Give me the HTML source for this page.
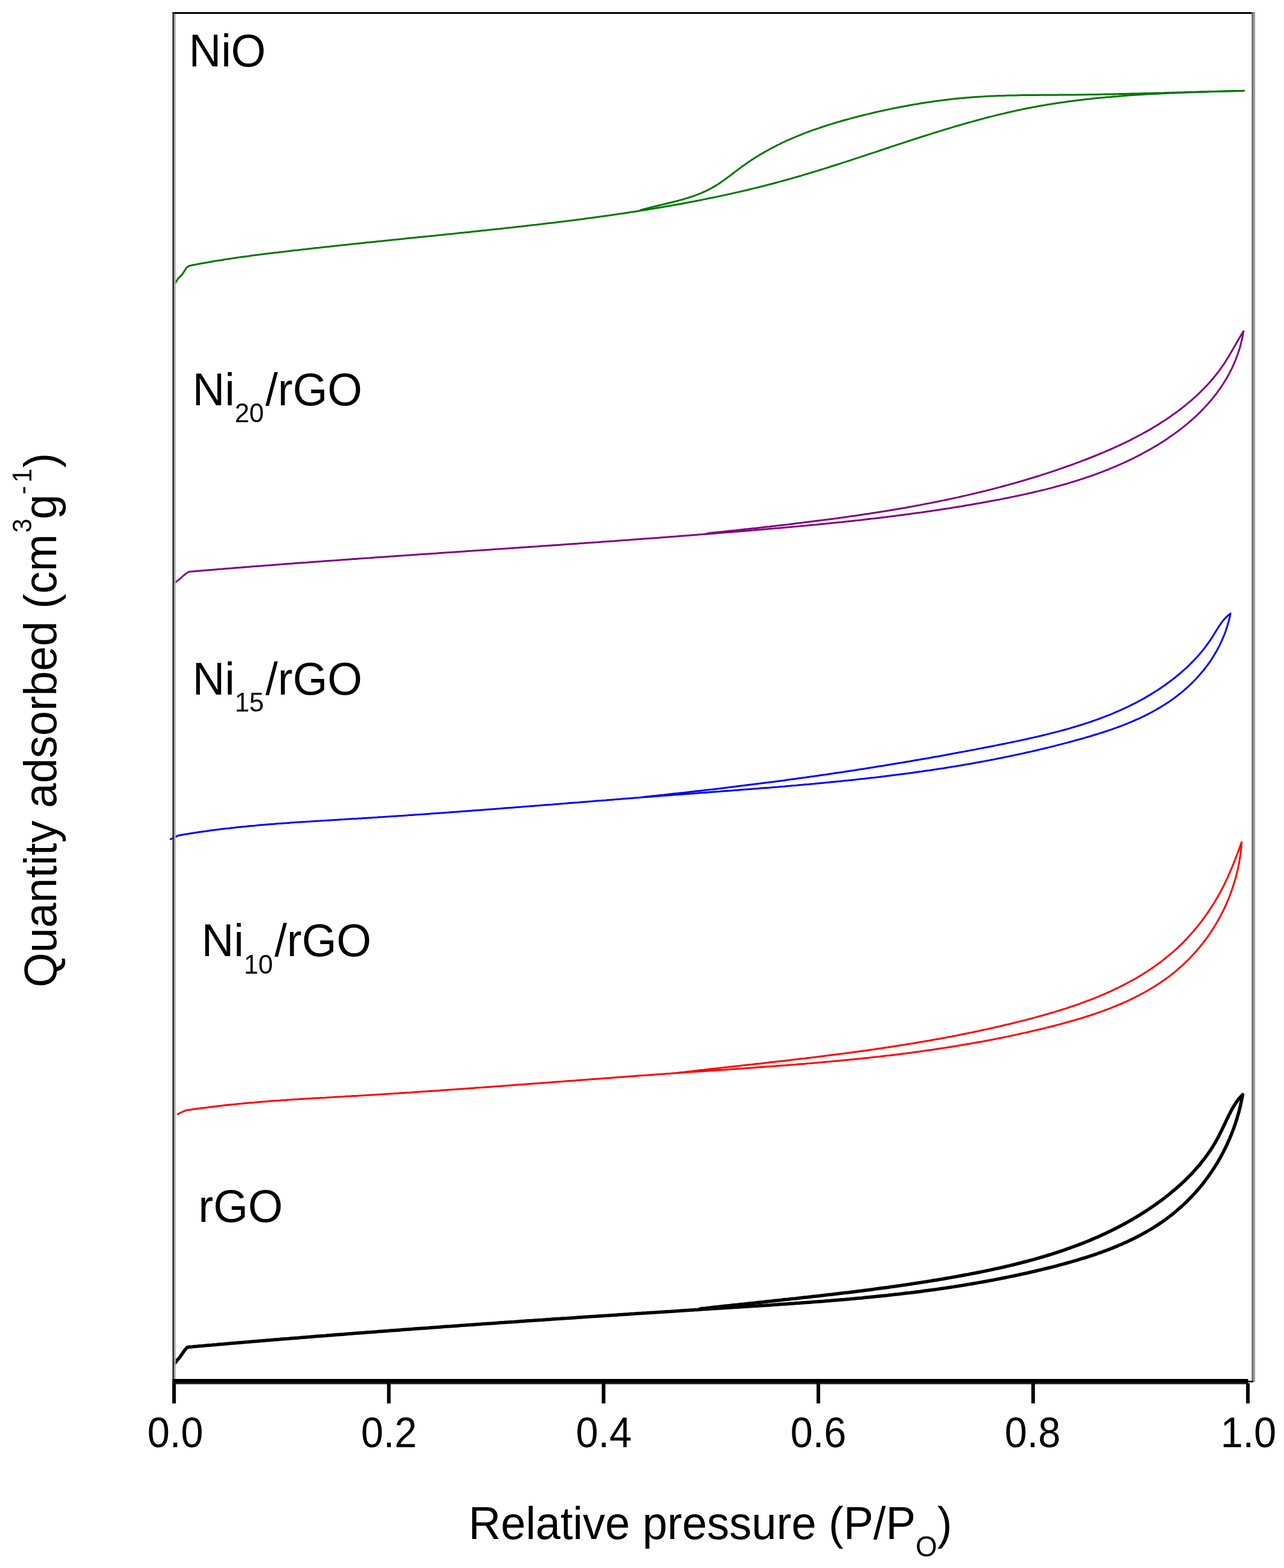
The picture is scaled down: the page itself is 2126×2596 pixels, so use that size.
<!DOCTYPE html>
<html><head><meta charset="utf-8"><title>Isotherms</title>
<style>html,body{margin:0;padding:0;background:#fff;width:2126px;height:2596px;overflow:hidden}svg{display:block}</style>
</head><body>
<svg width="2126" height="2596" viewBox="0 0 2126 2596">
<rect width="2126" height="2596" fill="#fff"/>
<g font-family="'Liberation Sans', Arial, sans-serif" fill="#000">
<text transform="translate(312.7,110) scale(1,1.035)" font-size="74" >NiO</text>
<text transform="translate(318.8,670.6) scale(1,1.035)" font-size="74" >Ni<tspan font-size="43.5" dy="27.5">20</tspan><tspan dx="2.5" dy="-27.5">/rGO</tspan></text>
<text transform="translate(318.8,1149.6) scale(1,1.035)" font-size="74" >Ni<tspan font-size="43.5" dy="27.5">15</tspan><tspan dx="2.5" dy="-27.5">/rGO</tspan></text>
<text transform="translate(333.8,1583.3) scale(1,1.035)" font-size="74" >Ni<tspan font-size="43.5" dy="27.5">10</tspan><tspan dx="2.5" dy="-27.5">/rGO</tspan></text>
<text transform="translate(328.6,2023.3) scale(1,1.035)" font-size="74" >rGO</text>
<text transform="translate(775.8,2547.6) scale(1,1.035)" font-size="74" >Relative pressure (P/P<tspan font-size="46" dy="28">O</tspan><tspan dy="-28">)</tspan></text>
<text transform="translate(92.9,1634.8) rotate(-90) scale(1,1.035)" font-size="74" letter-spacing="0.1">Quantity adsorbed (cm<tspan font-size="42" dx="2.2" dy="-40">3</tspan><tspan dx="-1.2" dy="40">g</tspan><tspan font-size="42" dy="-40">-</tspan><tspan font-size="42" dx="5.4">1</tspan><tspan dx="1" dy="40">)</tspan></text>
<text transform="translate(290.3,2396) scale(1,1.072)" font-size="66.5" text-anchor="middle">0.0</text><text transform="translate(644.0,2396) scale(1,1.072)" font-size="66.5" text-anchor="middle">0.2</text><text transform="translate(999.8,2396) scale(1,1.072)" font-size="66.5" text-anchor="middle">0.4</text><text transform="translate(1355.0,2396) scale(1,1.072)" font-size="66.5" text-anchor="middle">0.6</text><text transform="translate(1709.7,2396) scale(1,1.072)" font-size="66.5" text-anchor="middle">0.8</text><text transform="translate(2067.1,2396) scale(1,1.072)" font-size="66.5" text-anchor="middle">1.0</text>
</g>
<g fill="none" stroke-linejoin="round" stroke-linecap="round">
<path d="M289.8,469.1 L295.0,461.1 L301.9,454.1 L308.8,443.2 L313.4,440.1 L313.4,440.1 L317.3,439.3 L321.3,438.5 L325.2,437.8 L329.1,437.0 L333.1,436.3 L337.0,435.6 L340.9,434.9 L344.9,434.2 L348.8,433.5 L352.8,432.8 L356.7,432.1 L360.7,431.5 L364.6,430.9 L368.6,430.2 L372.5,429.6 L376.5,429.0 L380.5,428.4 L384.4,427.8 L388.4,427.2 L392.3,426.6 L396.3,426.1 L400.3,425.5 L404.2,425.0 L408.2,424.4 L412.2,423.9 L416.1,423.3 L420.1,422.8 L424.1,422.3 L428.1,421.8 L432.0,421.3 L436.0,420.8 L440.0,420.3 L444.0,419.8 L447.9,419.3 L451.9,418.8 L455.9,418.3 L459.9,417.9 L463.9,417.4 L467.8,416.9 L471.8,416.5 L475.8,416.0 L479.8,415.5 L483.8,415.1 L487.7,414.6 L491.7,414.2 L495.7,413.7 L499.7,413.3 L503.7,412.8 L507.7,412.4 L511.6,411.9 L515.6,411.5 L519.6,411.0 L523.6,410.6 L527.6,410.2 L531.6,409.7 L535.5,409.3 L539.5,408.8 L543.5,408.4 L547.5,408.0 L551.5,407.6 L555.5,407.1 L559.4,406.7 L563.4,406.3 L567.4,405.8 L571.4,405.4 L575.4,405.0 L579.4,404.6 L583.4,404.1 L587.3,403.7 L591.3,403.3 L595.3,402.9 L599.3,402.5 L603.3,402.1 L607.3,401.6 L611.3,401.2 L615.3,400.8 L619.2,400.4 L623.2,400.0 L627.2,399.6 L631.2,399.2 L635.2,398.7 L639.2,398.3 L643.2,397.9 L647.2,397.5 L651.2,397.1 L655.2,396.7 L659.1,396.3 L663.1,395.9 L667.1,395.5 L671.1,395.1 L675.1,394.6 L679.1,394.2 L683.1,393.8 L687.1,393.4 L691.1,393.0 L695.1,392.6 L699.0,392.2 L703.0,391.8 L707.0,391.4 L711.0,391.0 L715.0,390.6 L719.0,390.2 L723.0,389.7 L727.0,389.3 L731.0,388.9 L735.0,388.5 L739.0,388.1 L743.0,387.7 L747.0,387.3 L750.9,386.9 L754.9,386.4 L758.9,386.0 L762.9,385.6 L766.9,385.2 L770.9,384.8 L774.9,384.4 L778.9,384.0 L782.9,383.5 L786.9,383.1 L790.9,382.7 L794.9,382.3 L798.9,381.8 L802.9,381.4 L806.9,381.0 L810.8,380.6 L814.8,380.1 L818.8,379.7 L822.8,379.3 L826.8,378.9 L830.8,378.4 L834.8,378.0 L838.8,377.5 L842.8,377.1 L846.8,376.7 L850.8,376.2 L854.8,375.8 L858.8,375.3 L862.8,374.9 L866.8,374.4 L870.7,374.0 L874.7,373.5 L878.7,373.1 L882.7,372.6 L886.7,372.2 L890.7,371.7 L894.7,371.2 L898.7,370.8 L902.7,370.3 L906.7,369.8 L910.7,369.3 L914.6,368.9 L918.6,368.4 L922.6,367.9 L926.6,367.4 L930.6,366.9 L934.6,366.4 L938.6,365.9 L942.6,365.4 L946.5,364.9 L950.5,364.4 L954.5,363.9 L958.5,363.4 L962.5,362.9 L966.5,362.4 L970.4,361.8 L974.4,361.3 L978.4,360.8 L982.4,360.2 L986.3,359.7 L990.3,359.2 L994.3,358.6 L998.3,358.1 L1002.3,357.5 L1006.2,356.9 L1010.2,356.4 L1014.2,355.8 L1018.1,355.2 L1022.1,354.7 L1026.1,354.1 L1030.1,353.5 L1034.0,352.9 L1038.0,352.3 L1041.9,351.7 L1045.9,351.1 L1049.9,350.5 L1053.8,349.9 L1057.8,349.3 L1061.8,348.6 L1065.7,348.0 L1069.7,347.4 L1073.6,346.7 L1077.6,346.1 L1081.5,345.4 L1085.5,344.8 L1089.4,344.1 L1093.4,343.5 L1097.3,342.8 L1101.3,342.1 L1105.2,341.4 L1109.2,340.7 L1113.1,340.0 L1117.1,339.3 L1121.0,338.6 L1125.0,337.9 L1128.9,337.2 L1132.8,336.5 L1136.8,335.7 L1140.7,335.0 L1144.6,334.2 L1148.6,333.5 L1152.5,332.7 L1156.4,332.0 L1160.3,331.2 L1164.3,330.4 L1168.2,329.6 L1172.1,328.8 L1176.0,328.0 L1180.0,327.2 L1183.9,326.4 L1187.8,325.6 L1191.7,324.8 L1195.6,323.9 L1199.5,323.1 L1203.4,322.2 L1207.3,321.4 L1211.2,320.5 L1215.1,319.6 L1219.1,318.8 L1222.9,317.9 L1226.8,317.0 L1230.7,316.1 L1234.6,315.2 L1238.5,314.2 L1242.4,313.3 L1246.3,312.4 L1250.2,311.4 L1254.1,310.5 L1258.0,309.5 L1261.8,308.5 L1265.7,307.5 L1269.6,306.5 L1273.5,305.5 L1277.3,304.5 L1281.2,303.5 L1285.1,302.5 L1288.9,301.4 L1292.8,300.4 L1296.7,299.3 L1300.5,298.3 L1304.4,297.2 L1308.2,296.1 L1312.1,295.0 L1315.9,293.9 L1319.8,292.8 L1323.6,291.7 L1327.5,290.6 L1331.3,289.4 L1335.2,288.3 L1339.0,287.1 L1342.8,286.0 L1346.7,284.8 L1350.5,283.6 L1354.4,282.5 L1358.2,281.3 L1362.0,280.1 L1365.8,278.9 L1369.7,277.7 L1373.5,276.5 L1377.3,275.3 L1381.2,274.0 L1385.0,272.8 L1388.8,271.6 L1392.6,270.4 L1396.4,269.1 L1400.3,267.9 L1404.1,266.6 L1407.9,265.4 L1411.7,264.2 L1415.5,262.9 L1419.3,261.6 L1423.2,260.4 L1427.0,259.1 L1430.8,257.9 L1434.6,256.6 L1438.4,255.3 L1442.2,254.1 L1446.1,252.8 L1449.9,251.6 L1453.7,250.3 L1457.5,249.0 L1461.3,247.8 L1465.1,246.5 L1468.9,245.2 L1472.7,244.0 L1476.6,242.7 L1480.4,241.4 L1484.2,240.2 L1488.0,238.9 L1491.8,237.7 L1495.6,236.4 L1499.5,235.2 L1503.3,233.9 L1507.1,232.7 L1510.9,231.4 L1514.7,230.2 L1518.6,229.0 L1522.4,227.7 L1526.2,226.5 L1530.0,225.3 L1533.8,224.1 L1537.7,222.9 L1541.5,221.6 L1545.3,220.4 L1549.2,219.2 L1553.0,218.1 L1556.8,216.9 L1560.6,215.7 L1564.5,214.5 L1568.3,213.4 L1572.2,212.2 L1576.0,211.1 L1579.8,209.9 L1583.7,208.8 L1587.5,207.7 L1591.4,206.5 L1595.2,205.4 L1599.1,204.3 L1602.9,203.2 L1606.8,202.1 L1610.6,201.1 L1614.5,200.0 L1618.4,199.0 L1622.2,197.9 L1626.1,196.9 L1630.0,195.9 L1633.8,194.8 L1637.7,193.8 L1641.6,192.9 L1645.5,191.9 L1649.3,190.9 L1653.2,190.0 L1657.1,189.0 L1661.0,188.1 L1664.9,187.2 L1668.8,186.3 L1672.7,185.4 L1676.6,184.5 L1680.5,183.6 L1684.4,182.8 L1688.3,182.0 L1692.2,181.1 L1696.1,180.3 L1700.1,179.5 L1704.0,178.8 L1707.9,178.0 L1711.9,177.3 L1715.8,176.5 L1719.7,175.8 L1723.7,175.1 L1727.6,174.4 L1731.6,173.8 L1735.5,173.1 L1739.5,172.5 L1743.4,171.8 L1747.4,171.2 L1751.3,170.6 L1755.3,170.0 L1759.3,169.4 L1763.2,168.9 L1767.2,168.3 L1771.2,167.8 L1775.2,167.3 L1779.1,166.7 L1783.1,166.2 L1787.1,165.7 L1791.1,165.3 L1795.1,164.8 L1799.1,164.3 L1803.1,163.9 L1807.1,163.5 L1811.1,163.0 L1815.1,162.6 L1819.1,162.2 L1823.1,161.8 L1827.1,161.4 L1831.1,161.1 L1835.1,160.7 L1839.1,160.4 L1843.1,160.0 L1847.1,159.7 L1851.1,159.4 L1855.1,159.0 L1859.1,158.7 L1863.1,158.4 L1867.1,158.1 L1871.2,157.8 L1875.2,157.6 L1879.2,157.3 L1883.2,157.0 L1887.2,156.8 L1891.2,156.5 L1895.3,156.3 L1899.3,156.1 L1903.3,155.8 L1907.3,155.6 L1911.3,155.4 L1915.3,155.2 L1919.4,155.0 L1923.4,154.8 L1927.4,154.6 L1931.4,154.4 L1935.4,154.2 L1939.5,154.1 L1943.5,153.9 L1947.5,153.7 L1951.5,153.6 L1955.5,153.4 L1959.5,153.3 L1963.5,153.1 L1967.6,153.0 L1971.6,152.8 L1975.6,152.7 L1979.6,152.6 L1983.6,152.4 L1987.6,152.3 L1991.6,152.2 L1995.6,152.1 L1999.6,151.9 L2003.6,151.8 L2007.6,151.7 L2011.6,151.6 L2015.6,151.5 L2019.6,151.4 L2023.6,151.3 L2027.6,151.1 L2031.6,151.0 L2035.6,150.9 L2039.6,150.8 L2043.6,150.7 L2047.6,150.6 L2051.5,150.5 L2055.5,150.4 L2059.5,150.3" stroke="#007800" stroke-width="3"/>
<path d="M2059.5,150.3 L2055.5,150.4 L2051.4,150.5 L2047.4,150.6 L2043.4,150.7 L2039.4,150.7 L2035.4,150.8 L2031.3,150.9 L2027.3,151.0 L2023.3,151.1 L2019.3,151.2 L2015.2,151.3 L2011.2,151.4 L2007.2,151.5 L2003.2,151.6 L1999.1,151.8 L1995.1,151.9 L1991.1,152.0 L1987.1,152.1 L1983.0,152.2 L1979.0,152.3 L1975.0,152.4 L1971.0,152.5 L1966.9,152.6 L1962.9,152.7 L1958.9,152.9 L1954.9,153.0 L1950.9,153.1 L1946.8,153.2 L1942.8,153.3 L1938.8,153.4 L1934.8,153.5 L1930.7,153.6 L1926.7,153.8 L1922.7,153.9 L1918.7,154.0 L1914.6,154.1 L1910.6,154.2 L1906.6,154.3 L1902.6,154.4 L1898.6,154.5 L1894.5,154.6 L1890.5,154.7 L1886.5,154.8 L1882.5,154.9 L1878.4,155.0 L1874.4,155.1 L1870.4,155.2 L1866.4,155.3 L1862.3,155.4 L1858.3,155.5 L1854.3,155.6 L1850.3,155.7 L1846.2,155.8 L1842.2,155.9 L1838.2,156.0 L1834.2,156.0 L1830.1,156.1 L1826.1,156.2 L1822.1,156.3 L1818.1,156.4 L1814.0,156.4 L1810.0,156.5 L1806.0,156.6 L1802.0,156.6 L1797.9,156.7 L1793.9,156.7 L1789.9,156.8 L1785.9,156.8 L1781.8,156.9 L1777.8,156.9 L1773.8,157.0 L1769.7,157.0 L1765.7,157.1 L1761.7,157.1 L1757.7,157.1 L1753.6,157.1 L1749.6,157.2 L1745.6,157.2 L1741.5,157.2 L1737.5,157.2 L1733.5,157.3 L1729.5,157.3 L1725.4,157.3 L1721.4,157.3 L1717.4,157.4 L1713.3,157.4 L1709.3,157.4 L1705.3,157.5 L1701.3,157.5 L1697.2,157.6 L1693.2,157.6 L1689.2,157.7 L1685.2,157.8 L1681.1,157.9 L1677.1,157.9 L1673.1,158.0 L1669.1,158.1 L1665.1,158.2 L1661.0,158.4 L1657.0,158.5 L1653.0,158.6 L1649.0,158.8 L1645.0,159.0 L1640.9,159.1 L1636.9,159.3 L1632.9,159.5 L1628.9,159.8 L1624.9,160.0 L1620.9,160.2 L1616.9,160.5 L1612.9,160.8 L1608.9,161.1 L1604.8,161.4 L1600.8,161.7 L1596.8,162.1 L1592.8,162.5 L1588.8,162.8 L1584.8,163.2 L1580.8,163.6 L1576.8,164.1 L1572.8,164.5 L1568.9,165.0 L1564.9,165.5 L1560.9,166.0 L1556.9,166.5 L1552.9,167.0 L1548.9,167.5 L1544.9,168.1 L1541.0,168.7 L1537.0,169.2 L1533.0,169.8 L1529.0,170.5 L1525.0,171.1 L1521.1,171.7 L1517.1,172.4 L1513.1,173.1 L1509.2,173.8 L1505.2,174.5 L1501.2,175.2 L1497.3,175.9 L1493.3,176.7 L1489.4,177.4 L1485.4,178.2 L1481.5,179.0 L1477.5,179.8 L1473.6,180.6 L1469.6,181.5 L1465.7,182.3 L1461.8,183.2 L1457.8,184.0 L1453.9,184.9 L1450.0,185.8 L1446.0,186.7 L1442.1,187.7 L1438.2,188.6 L1434.3,189.6 L1430.3,190.5 L1426.4,191.5 L1422.5,192.5 L1418.6,193.5 L1414.7,194.5 L1410.8,195.6 L1406.9,196.6 L1403.0,197.7 L1399.1,198.7 L1395.2,199.8 L1391.4,201.0 L1387.5,202.1 L1383.6,203.2 L1379.8,204.4 L1375.9,205.6 L1372.1,206.8 L1368.2,208.0 L1364.4,209.2 L1360.6,210.5 L1356.8,211.8 L1352.9,213.1 L1349.2,214.4 L1345.4,215.7 L1341.6,217.1 L1337.8,218.5 L1334.1,219.9 L1330.3,221.3 L1326.6,222.8 L1322.9,224.3 L1319.2,225.8 L1315.5,227.4 L1311.8,228.9 L1308.1,230.5 L1304.5,232.2 L1300.8,233.8 L1297.2,235.5 L1293.6,237.2 L1290.0,239.0 L1286.4,240.7 L1282.9,242.6 L1279.3,244.4 L1275.8,246.3 L1272.3,248.2 L1268.8,250.1 L1265.3,252.1 L1261.8,254.1 L1258.4,256.1 L1255.0,258.2 L1251.6,260.3 L1248.2,262.5 L1244.8,264.6 L1241.5,266.9 L1238.2,269.1 L1234.9,271.4 L1231.6,273.8 L1228.3,276.1 L1225.1,278.5 L1221.8,281.0 L1218.6,283.4 L1215.4,285.8 L1212.2,288.3 L1209.0,290.7 L1205.7,293.1 L1202.5,295.5 L1199.2,297.9 L1196.0,300.2 L1192.6,302.5 L1189.3,304.7 L1185.9,306.8 L1182.5,308.9 L1179.1,310.9 L1175.6,312.8 L1172.0,314.6 L1168.5,316.4 L1164.8,318.0 L1161.2,319.6 L1157.5,321.1 L1153.7,322.6 L1150.0,323.9 L1146.2,325.3 L1142.3,326.5 L1138.5,327.8 L1134.6,328.9 L1130.7,330.1 L1126.8,331.1 L1122.9,332.2 L1119.0,333.2 L1115.0,334.2 L1111.0,335.2 L1107.1,336.2 L1103.1,337.2 L1099.2,338.1 L1095.2,339.1 L1091.2,340.0 L1087.3,341.0 L1083.3,341.9 L1079.4,342.9 L1075.5,343.9 L1071.6,344.9 L1067.7,345.9 L1063.8,347.0 L1060.0,348.1" stroke="#007800" stroke-width="3"/>
<path d="M289.7,964.6 L298.0,958.4 L304.2,952.5 L312.5,946.6 L312.5,946.6 L316.5,946.3 L320.5,945.9 L324.5,945.6 L328.5,945.2 L332.5,944.9 L336.5,944.6 L340.5,944.2 L344.5,943.9 L348.5,943.6 L352.5,943.3 L356.5,942.9 L360.5,942.6 L364.5,942.3 L368.5,942.0 L372.5,941.6 L376.5,941.3 L380.5,941.0 L384.5,940.7 L388.5,940.3 L392.5,940.0 L396.5,939.7 L400.5,939.4 L404.5,939.1 L408.5,938.8 L412.5,938.5 L416.5,938.1 L420.5,937.8 L424.5,937.5 L428.5,937.2 L432.5,936.9 L436.5,936.6 L440.5,936.3 L444.5,936.0 L448.5,935.7 L452.5,935.4 L456.5,935.1 L460.5,934.7 L464.5,934.4 L468.5,934.1 L472.5,933.8 L476.5,933.5 L480.5,933.2 L484.5,932.9 L488.5,932.6 L492.5,932.3 L496.5,932.0 L500.5,931.7 L504.5,931.4 L508.5,931.2 L512.5,930.9 L516.5,930.6 L520.5,930.3 L524.5,930.0 L528.6,929.7 L532.6,929.4 L536.6,929.1 L540.6,928.8 L544.6,928.5 L548.6,928.2 L552.6,927.9 L556.6,927.7 L560.6,927.4 L564.6,927.1 L568.6,926.8 L572.6,926.5 L576.6,926.2 L580.6,925.9 L584.6,925.6 L588.6,925.4 L592.6,925.1 L596.6,924.8 L600.6,924.5 L604.6,924.2 L608.6,923.9 L612.6,923.7 L616.6,923.4 L620.7,923.1 L624.7,922.8 L628.7,922.5 L632.7,922.3 L636.7,922.0 L640.7,921.7 L644.7,921.4 L648.7,921.1 L652.7,920.9 L656.7,920.6 L660.7,920.3 L664.7,920.0 L668.7,919.8 L672.7,919.5 L676.7,919.2 L680.7,918.9 L684.7,918.6 L688.8,918.4 L692.8,918.1 L696.8,917.8 L700.8,917.5 L704.8,917.3 L708.8,917.0 L712.8,916.7 L716.8,916.4 L720.8,916.2 L724.8,915.9 L728.8,915.6 L732.8,915.3 L736.8,915.1 L740.8,914.8 L744.8,914.5 L748.8,914.3 L752.9,914.0 L756.9,913.7 L760.9,913.4 L764.9,913.2 L768.9,912.9 L772.9,912.6 L776.9,912.3 L780.9,912.1 L784.9,911.8 L788.9,911.5 L792.9,911.2 L796.9,911.0 L800.9,910.7 L804.9,910.4 L808.9,910.2 L812.9,909.9 L817.0,909.6 L821.0,909.3 L825.0,909.1 L829.0,908.8 L833.0,908.5 L837.0,908.2 L841.0,908.0 L845.0,907.7 L849.0,907.4 L853.0,907.1 L857.0,906.9 L861.0,906.6 L865.0,906.3 L869.0,906.0 L873.0,905.8 L877.1,905.5 L881.1,905.2 L885.1,904.9 L889.1,904.7 L893.1,904.4 L897.1,904.1 L901.1,903.8 L905.1,903.6 L909.1,903.3 L913.1,903.0 L917.1,902.7 L921.1,902.4 L925.1,902.2 L929.1,901.9 L933.1,901.6 L937.2,901.3 L941.2,901.1 L945.2,900.8 L949.2,900.5 L953.2,900.2 L957.2,899.9 L961.2,899.6 L965.2,899.4 L969.2,899.1 L973.2,898.8 L977.2,898.5 L981.2,898.2 L985.2,897.9 L989.2,897.7 L993.2,897.4 L997.2,897.1 L1001.2,896.8 L1005.2,896.5 L1009.3,896.2 L1013.3,895.9 L1017.3,895.7 L1021.3,895.4 L1025.3,895.1 L1029.3,894.8 L1033.3,894.5 L1037.3,894.2 L1041.3,893.9 L1045.3,893.6 L1049.3,893.3 L1053.3,893.0 L1057.3,892.7 L1061.3,892.4 L1065.3,892.1 L1069.3,891.8 L1073.3,891.6 L1077.3,891.3 L1081.3,891.0 L1085.3,890.7 L1089.4,890.4 L1093.4,890.1 L1097.4,889.8 L1101.4,889.5 L1105.4,889.2 L1109.4,888.8 L1113.4,888.5 L1117.4,888.2 L1121.4,887.9 L1125.4,887.6 L1129.4,887.3 L1133.4,887.0 L1137.4,886.7 L1141.4,886.4 L1145.4,886.1 L1149.4,885.8 L1153.4,885.5 L1157.4,885.1 L1161.4,884.8 L1165.4,884.5 L1169.4,884.2 L1173.4,883.9 L1177.4,883.6 L1181.4,883.2 L1185.4,882.9 L1189.4,882.6 L1193.4,882.3 L1197.4,882.0 L1201.4,881.6 L1205.4,881.3 L1209.4,881.0 L1213.4,880.7 L1217.4,880.3 L1221.4,880.0 L1225.4,879.7 L1229.4,879.4 L1233.4,879.0 L1237.4,878.7 L1241.4,878.4 L1245.4,878.0 L1249.4,877.7 L1253.4,877.3 L1257.4,877.0 L1261.4,876.7 L1265.4,876.3 L1269.4,876.0 L1273.4,875.6 L1277.4,875.3 L1281.4,875.0 L1285.4,874.6 L1289.4,874.3 L1293.4,873.9 L1297.4,873.6 L1301.4,873.2 L1305.4,872.8 L1309.4,872.5 L1313.4,872.1 L1317.4,871.8 L1321.4,871.4 L1325.4,871.0 L1329.4,870.6 L1333.4,870.3 L1337.4,869.9 L1341.4,869.5 L1345.4,869.1 L1349.4,868.8 L1353.4,868.4 L1357.4,868.0 L1361.4,867.6 L1365.4,867.2 L1369.4,866.8 L1373.3,866.4 L1377.3,866.0 L1381.3,865.6 L1385.3,865.2 L1389.3,864.8 L1393.3,864.4 L1397.3,863.9 L1401.3,863.5 L1405.3,863.1 L1409.3,862.7 L1413.3,862.2 L1417.2,861.8 L1421.2,861.4 L1425.2,860.9 L1429.2,860.5 L1433.2,860.0 L1437.2,859.6 L1441.2,859.1 L1445.1,858.6 L1449.1,858.2 L1453.1,857.7 L1457.1,857.2 L1461.1,856.7 L1465.1,856.3 L1469.0,855.8 L1473.0,855.3 L1477.0,854.8 L1481.0,854.3 L1485.0,853.8 L1488.9,853.3 L1492.9,852.7 L1496.9,852.2 L1500.9,851.7 L1504.8,851.2 L1508.8,850.6 L1512.8,850.1 L1516.8,849.6 L1520.7,849.0 L1524.7,848.5 L1528.7,847.9 L1532.7,847.3 L1536.6,846.8 L1540.6,846.2 L1544.6,845.6 L1548.5,845.0 L1552.5,844.4 L1556.5,843.8 L1560.4,843.2 L1564.4,842.6 L1568.4,842.0 L1572.3,841.4 L1576.3,840.7 L1580.3,840.1 L1584.2,839.5 L1588.2,838.8 L1592.2,838.2 L1596.1,837.5 L1600.1,836.8 L1604.0,836.2 L1608.0,835.5 L1611.9,834.8 L1615.9,834.1 L1619.9,833.4 L1623.8,832.7 L1627.8,832.0 L1631.7,831.3 L1635.7,830.6 L1639.6,829.8 L1643.6,829.1 L1647.5,828.4 L1651.5,827.6 L1655.4,826.9 L1659.3,826.1 L1663.3,825.3 L1667.2,824.5 L1671.2,823.7 L1675.1,822.9 L1679.1,822.1 L1683.0,821.3 L1686.9,820.5 L1690.9,819.6 L1694.8,818.8 L1698.7,817.9 L1702.6,817.0 L1706.5,816.2 L1710.5,815.3 L1714.4,814.3 L1718.3,813.4 L1722.2,812.5 L1726.1,811.5 L1730.0,810.6 L1733.9,809.6 L1737.8,808.6 L1741.6,807.6 L1745.5,806.6 L1749.4,805.5 L1753.3,804.5 L1757.1,803.4 L1761.0,802.3 L1764.9,801.2 L1768.7,800.1 L1772.5,798.9 L1776.4,797.8 L1780.2,796.6 L1784.0,795.4 L1787.9,794.2 L1791.7,792.9 L1795.5,791.7 L1799.3,790.4 L1803.1,789.1 L1806.9,787.8 L1810.6,786.5 L1814.4,785.1 L1818.2,783.7 L1821.9,782.3 L1825.7,780.9 L1829.4,779.4 L1833.2,778.0 L1836.9,776.5 L1840.6,774.9 L1844.3,773.4 L1848.0,771.8 L1851.7,770.2 L1855.4,768.6 L1859.0,767.0 L1862.7,765.3 L1866.4,763.6 L1870.0,761.9 L1873.6,760.1 L1877.3,758.3 L1880.9,756.5 L1884.5,754.7 L1888.1,752.8 L1891.7,750.9 L1895.2,749.0 L1898.8,747.0 L1902.3,745.1 L1905.8,743.1 L1909.3,741.0 L1912.8,738.9 L1916.3,736.9 L1919.8,734.7 L1923.2,732.6 L1926.6,730.4 L1930.0,728.2 L1933.4,725.9 L1936.7,723.6 L1940.0,721.3 L1943.3,719.0 L1946.6,716.6 L1949.8,714.2 L1953.0,711.8 L1956.2,709.4 L1959.4,706.9 L1962.5,704.3 L1965.6,701.8 L1968.7,699.2 L1971.7,696.6 L1974.7,694.0 L1977.6,691.3 L1980.6,688.6 L1983.5,685.8 L1986.3,683.1 L1989.1,680.2 L1991.9,677.4 L1994.6,674.5 L1997.3,671.6 L2000.0,668.7 L2002.6,665.7 L2005.1,662.7 L2007.7,659.7 L2010.1,656.6 L2012.6,653.5 L2015.0,650.4 L2017.3,647.2 L2019.6,644.0 L2021.8,640.8 L2024.0,637.5 L2026.1,634.2 L2028.2,630.8 L2030.3,627.5 L2032.2,624.1 L2034.2,620.6 L2036.0,617.1 L2037.8,613.6 L2039.6,610.1 L2041.3,606.5 L2042.9,602.9 L2044.5,599.2 L2046.0,595.5 L2047.4,591.8 L2048.8,588.0 L2050.1,584.3 L2051.4,580.4 L2052.6,576.6 L2053.7,572.7 L2054.7,568.7 L2055.7,564.7 L2056.6,560.7 L2057.5,556.7 L2058.2,552.6 L2058.9,548.5" stroke="#800080" stroke-width="3"/>
<path d="M2058.9,548.5 L2056.8,551.9 L2054.7,555.3 L2052.6,558.8 L2050.6,562.2 L2048.6,565.7 L2046.5,569.2 L2044.5,572.7 L2042.5,576.2 L2040.5,579.7 L2038.4,583.2 L2036.4,586.7 L2034.3,590.2 L2032.2,593.6 L2030.0,597.1 L2027.9,600.5 L2025.7,603.8 L2023.4,607.1 L2021.1,610.4 L2018.7,613.6 L2016.3,616.8 L2013.8,620.0 L2011.3,623.1 L2008.8,626.2 L2006.2,629.3 L2003.6,632.3 L2000.9,635.3 L1998.2,638.2 L1995.5,641.1 L1992.7,644.0 L1989.9,646.8 L1987.0,649.6 L1984.1,652.4 L1981.2,655.1 L1978.2,657.8 L1975.3,660.4 L1972.3,663.1 L1969.2,665.7 L1966.1,668.2 L1963.0,670.8 L1959.9,673.3 L1956.8,675.7 L1953.6,678.2 L1950.4,680.6 L1947.2,683.0 L1944.0,685.3 L1940.7,687.6 L1937.4,689.9 L1934.1,692.2 L1930.8,694.4 L1927.4,696.7 L1924.1,698.8 L1920.7,701.0 L1917.3,703.1 L1913.9,705.2 L1910.4,707.3 L1907.0,709.4 L1903.5,711.4 L1900.0,713.4 L1896.5,715.4 L1893.0,717.3 L1889.5,719.2 L1885.9,721.2 L1882.3,723.0 L1878.8,724.9 L1875.2,726.7 L1871.6,728.6 L1867.9,730.4 L1864.3,732.1 L1860.7,733.9 L1857.0,735.6 L1853.3,737.3 L1849.7,739.0 L1846.0,740.7 L1842.3,742.4 L1838.6,744.0 L1834.8,745.6 L1831.1,747.2 L1827.4,748.8 L1823.6,750.4 L1819.9,752.0 L1816.1,753.5 L1812.4,755.0 L1808.6,756.5 L1804.8,758.0 L1801.1,759.5 L1797.3,761.0 L1793.5,762.4 L1789.7,763.8 L1785.9,765.3 L1782.1,766.7 L1778.3,768.1 L1774.5,769.5 L1770.7,770.8 L1766.9,772.2 L1763.1,773.5 L1759.3,774.9 L1755.5,776.2 L1751.6,777.5 L1747.8,778.8 L1744.0,780.1 L1740.2,781.4 L1736.3,782.6 L1732.5,783.9 L1728.7,785.1 L1724.8,786.3 L1721.0,787.6 L1717.1,788.8 L1713.3,790.0 L1709.4,791.1 L1705.6,792.3 L1701.7,793.5 L1697.9,794.6 L1694.0,795.8 L1690.2,796.9 L1686.3,798.0 L1682.4,799.1 L1678.6,800.2 L1674.7,801.3 L1670.8,802.4 L1667.0,803.4 L1663.1,804.5 L1659.2,805.5 L1655.3,806.6 L1651.4,807.6 L1647.6,808.6 L1643.7,809.6 L1639.8,810.6 L1635.9,811.6 L1632.0,812.6 L1628.1,813.5 L1624.2,814.5 L1620.3,815.4 L1616.4,816.4 L1612.5,817.3 L1608.6,818.2 L1604.7,819.1 L1600.8,820.1 L1596.8,820.9 L1592.9,821.8 L1589.0,822.7 L1585.1,823.6 L1581.2,824.4 L1577.3,825.3 L1573.3,826.1 L1569.4,827.0 L1565.5,827.8 L1561.5,828.6 L1557.6,829.4 L1553.7,830.2 L1549.7,831.0 L1545.8,831.8 L1541.9,832.6 L1537.9,833.4 L1534.0,834.1 L1530.0,834.9 L1526.1,835.6 L1522.2,836.4 L1518.2,837.1 L1514.3,837.8 L1510.3,838.6 L1506.4,839.3 L1502.4,840.0 L1498.4,840.7 L1494.5,841.4 L1490.5,842.1 L1486.6,842.7 L1482.6,843.4 L1478.6,844.1 L1474.7,844.7 L1470.7,845.4 L1466.8,846.0 L1462.8,846.7 L1458.8,847.3 L1454.8,848.0 L1450.9,848.6 L1446.9,849.2 L1442.9,849.8 L1439.0,850.4 L1435.0,851.0 L1431.0,851.6 L1427.0,852.2 L1423.0,852.8 L1419.1,853.4 L1415.1,854.0 L1411.1,854.5 L1407.1,855.1 L1403.1,855.7 L1399.1,856.2 L1395.2,856.8 L1391.2,857.3 L1387.2,857.9 L1383.2,858.4 L1379.2,859.0 L1375.2,859.5 L1371.2,860.0 L1367.2,860.5 L1363.2,861.1 L1359.2,861.6 L1355.2,862.1 L1351.3,862.6 L1347.3,863.1 L1343.3,863.6 L1339.3,864.1 L1335.3,864.6 L1331.3,865.1 L1327.3,865.6 L1323.3,866.1 L1319.3,866.5 L1315.3,867.0 L1311.3,867.5 L1307.3,868.0 L1303.3,868.4 L1299.3,868.9 L1295.2,869.4 L1291.2,869.8 L1287.2,870.3 L1283.2,870.8 L1279.2,871.2 L1275.2,871.7 L1271.2,872.1 L1267.2,872.6 L1263.2,873.0 L1259.2,873.5 L1255.2,873.9 L1251.2,874.4 L1247.2,874.8 L1243.2,875.2 L1239.2,875.7 L1235.1,876.1 L1231.1,876.6 L1227.1,877.0 L1223.1,877.4 L1219.1,877.9 L1215.1,878.3 L1211.1,878.7 L1207.1,879.1 L1203.1,879.6 L1199.1,880.0 L1195.1,880.4 L1191.0,880.9 L1187.0,881.3 L1183.0,881.7 L1179.0,882.1 L1175.0,882.6 L1171.0,883.0" stroke="#800080" stroke-width="3"/>
<path d="M282.4,1389.4 L289.7,1386.3 L294.5,1383.4 L294.5,1383.4 L298.5,1382.7 L302.4,1382.0 L306.4,1381.3 L310.3,1380.7 L314.3,1380.0 L318.3,1379.4 L322.2,1378.8 L326.2,1378.2 L330.2,1377.6 L334.1,1377.0 L338.1,1376.4 L342.1,1375.9 L346.1,1375.3 L350.0,1374.8 L354.0,1374.3 L358.0,1373.8 L362.0,1373.3 L366.0,1372.8 L369.9,1372.3 L373.9,1371.8 L377.9,1371.4 L381.9,1370.9 L385.9,1370.5 L389.9,1370.0 L393.9,1369.6 L397.8,1369.2 L401.8,1368.8 L405.8,1368.4 L409.8,1368.0 L413.8,1367.6 L417.8,1367.2 L421.8,1366.9 L425.8,1366.5 L429.8,1366.1 L433.8,1365.8 L437.8,1365.5 L441.8,1365.1 L445.8,1364.8 L449.8,1364.5 L453.8,1364.2 L457.8,1363.8 L461.8,1363.5 L465.8,1363.2 L469.8,1362.9 L473.8,1362.7 L477.8,1362.4 L481.8,1362.1 L485.8,1361.8 L489.8,1361.5 L493.8,1361.3 L497.8,1361.0 L501.8,1360.7 L505.9,1360.5 L509.9,1360.2 L513.9,1360.0 L517.9,1359.7 L521.9,1359.5 L525.9,1359.2 L529.9,1359.0 L533.9,1358.7 L537.9,1358.5 L541.9,1358.2 L545.9,1358.0 L550.0,1357.8 L554.0,1357.5 L558.0,1357.3 L562.0,1357.0 L566.0,1356.8 L570.0,1356.6 L574.0,1356.3 L578.0,1356.1 L582.0,1355.8 L586.1,1355.6 L590.1,1355.4 L594.1,1355.1 L598.1,1354.9 L602.1,1354.6 L606.1,1354.4 L610.1,1354.1 L614.1,1353.9 L618.1,1353.6 L622.1,1353.4 L626.2,1353.1 L630.2,1352.8 L634.2,1352.6 L638.2,1352.3 L642.2,1352.1 L646.2,1351.8 L650.2,1351.5 L654.2,1351.3 L658.2,1351.0 L662.2,1350.7 L666.2,1350.5 L670.3,1350.2 L674.3,1349.9 L678.3,1349.6 L682.3,1349.4 L686.3,1349.1 L690.3,1348.8 L694.3,1348.5 L698.3,1348.2 L702.3,1348.0 L706.3,1347.7 L710.3,1347.4 L714.3,1347.1 L718.4,1346.8 L722.4,1346.5 L726.4,1346.2 L730.4,1346.0 L734.4,1345.7 L738.4,1345.4 L742.4,1345.1 L746.4,1344.8 L750.4,1344.5 L754.4,1344.2 L758.4,1343.9 L762.4,1343.6 L766.4,1343.3 L770.4,1343.0 L774.5,1342.7 L778.5,1342.4 L782.5,1342.1 L786.5,1341.8 L790.5,1341.5 L794.5,1341.2 L798.5,1340.9 L802.5,1340.6 L806.5,1340.3 L810.5,1340.0 L814.5,1339.7 L818.5,1339.4 L822.5,1339.1 L826.5,1338.8 L830.5,1338.4 L834.5,1338.1 L838.6,1337.8 L842.6,1337.5 L846.6,1337.2 L850.6,1336.9 L854.6,1336.6 L858.6,1336.3 L862.6,1336.0 L866.6,1335.6 L870.6,1335.3 L874.6,1335.0 L878.6,1334.7 L882.6,1334.4 L886.6,1334.1 L890.6,1333.8 L894.6,1333.4 L898.6,1333.1 L902.6,1332.8 L906.7,1332.5 L910.7,1332.2 L914.7,1331.9 L918.7,1331.5 L922.7,1331.2 L926.7,1330.9 L930.7,1330.6 L934.7,1330.3 L938.7,1329.9 L942.7,1329.6 L946.7,1329.3 L950.7,1329.0 L954.7,1328.7 L958.7,1328.4 L962.7,1328.0 L966.7,1327.7 L970.7,1327.4 L974.7,1327.1 L978.7,1326.8 L982.7,1326.4 L986.8,1326.1 L990.8,1325.8 L994.8,1325.5 L998.8,1325.2 L1002.8,1324.9 L1006.8,1324.5 L1010.8,1324.2 L1014.8,1323.9 L1018.8,1323.6 L1022.8,1323.3 L1026.8,1323.0 L1030.8,1322.6 L1034.8,1322.3 L1038.8,1322.0 L1042.8,1321.7 L1046.8,1321.4 L1050.8,1321.1 L1054.8,1320.8 L1058.8,1320.4 L1062.8,1320.1 L1066.9,1319.8 L1070.9,1319.5 L1074.9,1319.2 L1078.9,1318.9 L1082.9,1318.6 L1086.9,1318.3 L1090.9,1318.0 L1094.9,1317.6 L1098.9,1317.3 L1102.9,1317.0 L1106.9,1316.7 L1110.9,1316.4 L1114.9,1316.1 L1118.9,1315.8 L1122.9,1315.5 L1126.9,1315.2 L1130.9,1314.9 L1134.9,1314.6 L1139.0,1314.3 L1143.0,1314.0 L1147.0,1313.7 L1151.0,1313.4 L1155.0,1313.1 L1159.0,1312.8 L1163.0,1312.5 L1167.0,1312.2 L1171.0,1311.9 L1175.0,1311.6 L1179.0,1311.3 L1183.0,1311.0 L1187.0,1310.7 L1191.0,1310.4 L1195.0,1310.1 L1199.0,1309.8 L1203.0,1309.5 L1207.0,1309.2 L1211.0,1308.9 L1215.0,1308.6 L1219.1,1308.3 L1223.1,1308.0 L1227.1,1307.6 L1231.1,1307.3 L1235.1,1307.0 L1239.1,1306.7 L1243.1,1306.4 L1247.1,1306.1 L1251.1,1305.8 L1255.1,1305.5 L1259.1,1305.1 L1263.1,1304.8 L1267.1,1304.5 L1271.1,1304.2 L1275.1,1303.9 L1279.1,1303.5 L1283.1,1303.2 L1287.1,1302.9 L1291.1,1302.5 L1295.1,1302.2 L1299.1,1301.9 L1303.1,1301.5 L1307.1,1301.2 L1311.1,1300.8 L1315.1,1300.5 L1319.1,1300.2 L1323.1,1299.8 L1327.1,1299.5 L1331.1,1299.1 L1335.1,1298.7 L1339.1,1298.4 L1343.1,1298.0 L1347.1,1297.7 L1351.1,1297.3 L1355.1,1296.9 L1359.1,1296.5 L1363.0,1296.2 L1367.0,1295.8 L1371.0,1295.4 L1375.0,1295.0 L1379.0,1294.6 L1383.0,1294.2 L1387.0,1293.8 L1391.0,1293.4 L1395.0,1293.0 L1399.0,1292.6 L1403.0,1292.2 L1407.0,1291.8 L1410.9,1291.4 L1414.9,1290.9 L1418.9,1290.5 L1422.9,1290.1 L1426.9,1289.6 L1430.9,1289.2 L1434.9,1288.7 L1438.9,1288.3 L1442.8,1287.8 L1446.8,1287.4 L1450.8,1286.9 L1454.8,1286.5 L1458.8,1286.0 L1462.8,1285.5 L1466.7,1285.0 L1470.7,1284.5 L1474.7,1284.0 L1478.7,1283.5 L1482.7,1283.0 L1486.6,1282.5 L1490.6,1282.0 L1494.6,1281.5 L1498.6,1281.0 L1502.5,1280.5 L1506.5,1279.9 L1510.5,1279.4 L1514.5,1278.8 L1518.4,1278.3 L1522.4,1277.7 L1526.4,1277.2 L1530.3,1276.6 L1534.3,1276.0 L1538.3,1275.5 L1542.3,1274.9 L1546.2,1274.3 L1550.2,1273.7 L1554.2,1273.1 L1558.1,1272.5 L1562.1,1271.9 L1566.0,1271.2 L1570.0,1270.6 L1574.0,1270.0 L1577.9,1269.3 L1581.9,1268.7 L1585.9,1268.0 L1589.8,1267.4 L1593.8,1266.7 L1597.7,1266.0 L1601.7,1265.3 L1605.6,1264.7 L1609.6,1264.0 L1613.6,1263.3 L1617.5,1262.5 L1621.5,1261.8 L1625.4,1261.1 L1629.4,1260.4 L1633.3,1259.6 L1637.3,1258.9 L1641.2,1258.1 L1645.2,1257.4 L1649.1,1256.6 L1653.0,1255.8 L1657.0,1255.0 L1660.9,1254.2 L1664.9,1253.4 L1668.8,1252.6 L1672.8,1251.8 L1676.7,1251.0 L1680.6,1250.1 L1684.6,1249.3 L1688.5,1248.4 L1692.4,1247.6 L1696.4,1246.7 L1700.3,1245.8 L1704.2,1245.0 L1708.2,1244.1 L1712.1,1243.2 L1716.0,1242.2 L1720.0,1241.3 L1723.9,1240.4 L1727.8,1239.5 L1731.7,1238.5 L1735.7,1237.6 L1739.6,1236.6 L1743.5,1235.6 L1747.4,1234.6 L1751.4,1233.6 L1755.3,1232.6 L1759.2,1231.6 L1763.1,1230.6 L1767.0,1229.6 L1770.9,1228.5 L1774.8,1227.5 L1778.8,1226.4 L1782.7,1225.3 L1786.6,1224.3 L1790.5,1223.2 L1794.4,1222.1 L1798.3,1220.9 L1802.2,1219.8 L1806.1,1218.7 L1810.0,1217.5 L1813.8,1216.3 L1817.7,1215.1 L1821.6,1213.9 L1825.4,1212.7 L1829.3,1211.4 L1833.1,1210.2 L1836.9,1208.9 L1840.8,1207.6 L1844.6,1206.2 L1848.4,1204.9 L1852.1,1203.5 L1855.9,1202.1 L1859.7,1200.6 L1863.4,1199.2 L1867.1,1197.7 L1870.8,1196.1 L1874.5,1194.6 L1878.2,1193.0 L1881.8,1191.4 L1885.5,1189.8 L1889.1,1188.1 L1892.7,1186.4 L1896.3,1184.6 L1899.8,1182.8 L1903.3,1181.0 L1906.9,1179.2 L1910.3,1177.3 L1913.8,1175.3 L1917.2,1173.4 L1920.6,1171.4 L1924.0,1169.3 L1927.4,1167.2 L1930.7,1165.1 L1934.0,1162.9 L1937.3,1160.7 L1940.5,1158.4 L1943.7,1156.1 L1946.9,1153.7 L1950.1,1151.3 L1953.2,1148.9 L1956.3,1146.4 L1959.3,1143.8 L1962.4,1141.2 L1965.3,1138.6 L1968.3,1135.9 L1971.2,1133.2 L1974.0,1130.4 L1976.8,1127.5 L1979.6,1124.7 L1982.3,1121.8 L1985.0,1118.8 L1987.6,1115.8 L1990.2,1112.7 L1992.8,1109.7 L1995.2,1106.5 L1997.7,1103.4 L2000.1,1100.1 L2002.4,1096.9 L2004.7,1093.6 L2006.9,1090.2 L2009.0,1086.8 L2011.1,1083.4 L2013.1,1080.0 L2015.1,1076.5 L2017.0,1072.9 L2018.9,1069.4 L2020.6,1065.8 L2022.3,1062.1 L2024.0,1058.4 L2025.6,1054.7 L2027.1,1051.0 L2028.5,1047.2 L2029.9,1043.4 L2031.2,1039.5 L2032.4,1035.7 L2033.5,1031.8 L2034.6,1027.8 L2035.6,1023.9 L2036.5,1019.9 L2037.3,1015.9" stroke="#0000ff" stroke-width="3"/>
<path d="M2037.3,1015.9 L2034.0,1018.4 L2031.0,1021.1 L2028.2,1024.0 L2025.6,1027.0 L2023.1,1030.1 L2020.8,1033.3 L2018.6,1036.6 L2016.4,1040.0 L2014.3,1043.4 L2012.2,1046.8 L2010.1,1050.3 L2008.0,1053.7 L2005.8,1057.1 L2003.6,1060.4 L2001.3,1063.7 L1998.9,1067.0 L1996.5,1070.2 L1994.1,1073.4 L1991.6,1076.5 L1989.0,1079.6 L1986.4,1082.7 L1983.8,1085.7 L1981.1,1088.7 L1978.4,1091.6 L1975.6,1094.5 L1972.8,1097.4 L1969.9,1100.3 L1967.0,1103.1 L1964.1,1105.8 L1961.1,1108.5 L1958.1,1111.2 L1955.1,1113.9 L1952.0,1116.5 L1948.9,1119.0 L1945.8,1121.6 L1942.6,1124.1 L1939.4,1126.5 L1936.2,1128.9 L1933.0,1131.3 L1929.7,1133.7 L1926.4,1136.0 L1923.1,1138.2 L1919.8,1140.5 L1916.5,1142.7 L1913.1,1144.8 L1909.7,1147.0 L1906.3,1149.1 L1902.9,1151.1 L1899.5,1153.1 L1896.1,1155.1 L1892.6,1157.1 L1889.1,1159.0 L1885.6,1160.9 L1882.1,1162.8 L1878.6,1164.6 L1875.0,1166.4 L1871.4,1168.2 L1867.9,1169.9 L1864.3,1171.6 L1860.7,1173.3 L1857.0,1174.9 L1853.4,1176.5 L1849.8,1178.1 L1846.1,1179.7 L1842.4,1181.3 L1838.7,1182.8 L1835.0,1184.3 L1831.3,1185.7 L1827.6,1187.2 L1823.8,1188.6 L1820.1,1190.0 L1816.3,1191.3 L1812.5,1192.7 L1808.8,1194.0 L1805.0,1195.3 L1801.2,1196.6 L1797.3,1197.8 L1793.5,1199.1 L1789.7,1200.3 L1785.8,1201.5 L1782.0,1202.6 L1778.1,1203.8 L1774.3,1204.9 L1770.4,1206.1 L1766.5,1207.2 L1762.6,1208.2 L1758.7,1209.3 L1754.8,1210.4 L1750.9,1211.4 L1747.0,1212.4 L1743.1,1213.4 L1739.1,1214.4 L1735.2,1215.4 L1731.2,1216.4 L1727.3,1217.3 L1723.4,1218.3 L1719.4,1219.2 L1715.4,1220.1 L1711.5,1221.0 L1707.5,1221.9 L1703.5,1222.8 L1699.6,1223.7 L1695.6,1224.5 L1691.6,1225.4 L1687.6,1226.3 L1683.7,1227.1 L1679.7,1227.9 L1675.7,1228.8 L1671.7,1229.6 L1667.7,1230.4 L1663.8,1231.2 L1659.8,1232.0 L1655.8,1232.8 L1651.8,1233.6 L1647.8,1234.4 L1643.8,1235.2 L1639.9,1236.0 L1635.9,1236.7 L1631.9,1237.5 L1627.9,1238.3 L1623.9,1239.1 L1620.0,1239.8 L1616.0,1240.6 L1612.0,1241.4 L1608.0,1242.1 L1604.1,1242.9 L1600.1,1243.6 L1596.1,1244.4 L1592.2,1245.1 L1588.2,1245.8 L1584.2,1246.6 L1580.2,1247.3 L1576.3,1248.0 L1572.3,1248.8 L1568.3,1249.5 L1564.4,1250.2 L1560.4,1250.9 L1556.4,1251.7 L1552.5,1252.4 L1548.5,1253.1 L1544.6,1253.8 L1540.6,1254.5 L1536.6,1255.2 L1532.7,1255.9 L1528.7,1256.6 L1524.7,1257.3 L1520.8,1257.9 L1516.8,1258.6 L1512.9,1259.3 L1508.9,1260.0 L1504.9,1260.7 L1501.0,1261.3 L1497.0,1262.0 L1493.1,1262.7 L1489.1,1263.3 L1485.1,1264.0 L1481.2,1264.6 L1477.2,1265.3 L1473.3,1265.9 L1469.3,1266.6 L1465.4,1267.2 L1461.4,1267.9 L1457.4,1268.5 L1453.5,1269.1 L1449.5,1269.8 L1445.6,1270.4 L1441.6,1271.0 L1437.6,1271.7 L1433.7,1272.3 L1429.7,1272.9 L1425.8,1273.5 L1421.8,1274.1 L1417.9,1274.7 L1413.9,1275.4 L1409.9,1276.0 L1406.0,1276.6 L1402.0,1277.2 L1398.1,1277.8 L1394.1,1278.4 L1390.1,1278.9 L1386.2,1279.5 L1382.2,1280.1 L1378.3,1280.7 L1374.3,1281.3 L1370.3,1281.9 L1366.4,1282.4 L1362.4,1283.0 L1358.5,1283.6 L1354.5,1284.2 L1350.5,1284.7 L1346.6,1285.3 L1342.6,1285.8 L1338.7,1286.4 L1334.7,1287.0 L1330.7,1287.5 L1326.8,1288.1 L1322.8,1288.6 L1318.8,1289.2 L1314.9,1289.7 L1310.9,1290.2 L1306.9,1290.8 L1303.0,1291.3 L1299.0,1291.9 L1295.0,1292.4 L1291.0,1292.9 L1287.1,1293.4 L1283.1,1294.0 L1279.1,1294.5 L1275.2,1295.0 L1271.2,1295.5 L1267.2,1296.1 L1263.2,1296.6 L1259.2,1297.1 L1255.3,1297.6 L1251.3,1298.1 L1247.3,1298.6 L1243.3,1299.1 L1239.3,1299.6 L1235.4,1300.1 L1231.4,1300.6 L1227.4,1301.1 L1223.4,1301.6 L1219.4,1302.1 L1215.4,1302.6 L1211.5,1303.0 L1207.5,1303.5 L1203.5,1304.0 L1199.5,1304.5 L1195.5,1305.0 L1191.5,1305.5 L1187.5,1305.9 L1183.5,1306.4 L1179.5,1306.9 L1175.5,1307.3 L1171.5,1307.8 L1167.5,1308.3 L1163.5,1308.7 L1159.5,1309.2 L1155.5,1309.6 L1151.5,1310.1 L1147.5,1310.6 L1143.5,1311.0 L1139.5,1311.5 L1135.4,1311.9 L1131.4,1312.4 L1127.4,1312.8 L1123.4,1313.3 L1119.4,1313.7 L1115.4,1314.1 L1111.3,1314.6 L1107.3,1315.0 L1103.3,1315.4 L1099.3,1315.9 L1095.2,1316.3 L1091.2,1316.7 L1087.2,1317.2 L1083.1,1317.6 L1079.1,1318.0 L1075.1,1318.5 L1071.0,1318.9 L1067.0,1319.3" stroke="#0000ff" stroke-width="3"/>
<path d="M294.5,1844.6 L300.7,1841.5 L307.6,1838.4 L307.6,1838.4 L311.6,1837.8 L315.6,1837.2 L319.5,1836.6 L323.5,1836.0 L327.5,1835.5 L331.5,1834.9 L335.5,1834.4 L339.4,1833.9 L343.4,1833.4 L347.4,1832.9 L351.4,1832.4 L355.4,1831.9 L359.4,1831.4 L363.3,1830.9 L367.3,1830.5 L371.3,1830.0 L375.3,1829.6 L379.3,1829.2 L383.3,1828.8 L387.3,1828.4 L391.3,1828.0 L395.3,1827.6 L399.3,1827.2 L403.2,1826.8 L407.2,1826.4 L411.2,1826.1 L415.2,1825.7 L419.2,1825.4 L423.2,1825.0 L427.2,1824.7 L431.2,1824.3 L435.2,1824.0 L439.2,1823.7 L443.2,1823.4 L447.2,1823.1 L451.2,1822.8 L455.2,1822.5 L459.2,1822.2 L463.2,1821.9 L467.2,1821.6 L471.2,1821.4 L475.2,1821.1 L479.2,1820.8 L483.2,1820.6 L487.2,1820.3 L491.2,1820.0 L495.2,1819.8 L499.2,1819.5 L503.2,1819.3 L507.2,1819.0 L511.2,1818.8 L515.2,1818.6 L519.3,1818.3 L523.3,1818.1 L527.3,1817.9 L531.3,1817.6 L535.3,1817.4 L539.3,1817.2 L543.3,1816.9 L547.3,1816.7 L551.3,1816.5 L555.3,1816.2 L559.3,1816.0 L563.3,1815.8 L567.3,1815.6 L571.3,1815.3 L575.4,1815.1 L579.4,1814.9 L583.4,1814.6 L587.4,1814.4 L591.4,1814.2 L595.4,1813.9 L599.4,1813.7 L603.4,1813.5 L607.4,1813.2 L611.4,1813.0 L615.4,1812.7 L619.5,1812.5 L623.5,1812.2 L627.5,1812.0 L631.5,1811.7 L635.5,1811.5 L639.5,1811.2 L643.5,1811.0 L647.5,1810.7 L651.5,1810.5 L655.5,1810.2 L659.5,1810.0 L663.6,1809.7 L667.6,1809.4 L671.6,1809.2 L675.6,1808.9 L679.6,1808.7 L683.6,1808.4 L687.6,1808.1 L691.6,1807.9 L695.6,1807.6 L699.7,1807.3 L703.7,1807.0 L707.7,1806.8 L711.7,1806.5 L715.7,1806.2 L719.7,1805.9 L723.7,1805.7 L727.7,1805.4 L731.7,1805.1 L735.7,1804.8 L739.8,1804.6 L743.8,1804.3 L747.8,1804.0 L751.8,1803.7 L755.8,1803.4 L759.8,1803.1 L763.8,1802.9 L767.8,1802.6 L771.8,1802.3 L775.8,1802.0 L779.9,1801.7 L783.9,1801.4 L787.9,1801.1 L791.9,1800.8 L795.9,1800.6 L799.9,1800.3 L803.9,1800.0 L807.9,1799.7 L811.9,1799.4 L816.0,1799.1 L820.0,1798.8 L824.0,1798.5 L828.0,1798.2 L832.0,1797.9 L836.0,1797.6 L840.0,1797.3 L844.0,1797.0 L848.0,1796.7 L852.0,1796.4 L856.1,1796.1 L860.1,1795.8 L864.1,1795.5 L868.1,1795.2 L872.1,1794.9 L876.1,1794.6 L880.1,1794.3 L884.1,1794.0 L888.1,1793.7 L892.1,1793.4 L896.2,1793.1 L900.2,1792.8 L904.2,1792.5 L908.2,1792.2 L912.2,1791.9 L916.2,1791.6 L920.2,1791.3 L924.2,1791.0 L928.2,1790.7 L932.2,1790.4 L936.3,1790.1 L940.3,1789.8 L944.3,1789.5 L948.3,1789.2 L952.3,1788.9 L956.3,1788.6 L960.3,1788.3 L964.3,1788.0 L968.3,1787.7 L972.3,1787.4 L976.3,1787.1 L980.4,1786.8 L984.4,1786.5 L988.4,1786.2 L992.4,1785.9 L996.4,1785.6 L1000.4,1785.3 L1004.4,1785.0 L1008.4,1784.7 L1012.4,1784.4 L1016.4,1784.1 L1020.4,1783.8 L1024.4,1783.5 L1028.4,1783.2 L1032.5,1782.9 L1036.5,1782.6 L1040.5,1782.3 L1044.5,1782.0 L1048.5,1781.7 L1052.5,1781.4 L1056.5,1781.1 L1060.5,1780.8 L1064.5,1780.5 L1068.5,1780.2 L1072.5,1780.0 L1076.5,1779.7 L1080.5,1779.4 L1084.5,1779.1 L1088.5,1778.8 L1092.6,1778.5 L1096.6,1778.2 L1100.6,1777.9 L1104.6,1777.6 L1108.6,1777.4 L1112.6,1777.1 L1116.6,1776.8 L1120.6,1776.5 L1124.6,1776.2 L1128.6,1776.0 L1132.6,1775.7 L1136.6,1775.4 L1140.6,1775.1 L1144.6,1774.8 L1148.6,1774.6 L1152.6,1774.3 L1156.6,1774.0 L1160.6,1773.7 L1164.6,1773.5 L1168.6,1773.2 L1172.6,1772.9 L1176.6,1772.6 L1180.6,1772.4 L1184.6,1772.1 L1188.6,1771.8 L1192.7,1771.5 L1196.7,1771.3 L1200.7,1771.0 L1204.7,1770.7 L1208.7,1770.4 L1212.7,1770.1 L1216.7,1769.9 L1220.7,1769.6 L1224.7,1769.3 L1228.7,1769.0 L1232.7,1768.7 L1236.7,1768.5 L1240.7,1768.2 L1244.7,1767.9 L1248.7,1767.6 L1252.7,1767.3 L1256.7,1767.0 L1260.7,1766.7 L1264.7,1766.4 L1268.7,1766.1 L1272.6,1765.8 L1276.6,1765.6 L1280.6,1765.3 L1284.6,1765.0 L1288.6,1764.6 L1292.6,1764.3 L1296.6,1764.0 L1300.6,1763.7 L1304.6,1763.4 L1308.6,1763.1 L1312.6,1762.8 L1316.6,1762.5 L1320.6,1762.1 L1324.6,1761.8 L1328.6,1761.5 L1332.6,1761.2 L1336.6,1760.8 L1340.6,1760.5 L1344.6,1760.2 L1348.6,1759.8 L1352.5,1759.5 L1356.5,1759.1 L1360.5,1758.8 L1364.5,1758.4 L1368.5,1758.1 L1372.5,1757.7 L1376.5,1757.3 L1380.5,1757.0 L1384.5,1756.6 L1388.5,1756.2 L1392.5,1755.8 L1396.4,1755.5 L1400.4,1755.1 L1404.4,1754.7 L1408.4,1754.3 L1412.4,1753.9 L1416.4,1753.5 L1420.4,1753.1 L1424.4,1752.7 L1428.3,1752.3 L1432.3,1751.8 L1436.3,1751.4 L1440.3,1751.0 L1444.3,1750.5 L1448.3,1750.1 L1452.3,1749.7 L1456.2,1749.2 L1460.2,1748.8 L1464.2,1748.3 L1468.2,1747.8 L1472.2,1747.4 L1476.2,1746.9 L1480.1,1746.4 L1484.1,1745.9 L1488.1,1745.4 L1492.1,1744.9 L1496.1,1744.4 L1500.0,1743.9 L1504.0,1743.4 L1508.0,1742.9 L1512.0,1742.3 L1516.0,1741.8 L1519.9,1741.3 L1523.9,1740.7 L1527.9,1740.2 L1531.9,1739.6 L1535.8,1739.1 L1539.8,1738.5 L1543.8,1737.9 L1547.8,1737.3 L1551.7,1736.7 L1555.7,1736.1 L1559.7,1735.5 L1563.7,1734.9 L1567.6,1734.3 L1571.6,1733.7 L1575.6,1733.1 L1579.5,1732.4 L1583.5,1731.8 L1587.5,1731.1 L1591.4,1730.5 L1595.4,1729.8 L1599.4,1729.1 L1603.4,1728.4 L1607.3,1727.7 L1611.3,1727.0 L1615.3,1726.3 L1619.2,1725.6 L1623.2,1724.9 L1627.2,1724.2 L1631.1,1723.4 L1635.1,1722.7 L1639.0,1721.9 L1643.0,1721.2 L1647.0,1720.4 L1650.9,1719.6 L1654.9,1718.8 L1658.9,1718.0 L1662.8,1717.2 L1666.8,1716.4 L1670.7,1715.6 L1674.7,1714.7 L1678.7,1713.9 L1682.6,1713.1 L1686.6,1712.2 L1690.5,1711.3 L1694.5,1710.4 L1698.4,1709.6 L1702.4,1708.7 L1706.3,1707.8 L1710.3,1706.8 L1714.3,1705.9 L1718.2,1705.0 L1722.2,1704.0 L1726.1,1703.1 L1730.1,1702.1 L1734.0,1701.1 L1738.0,1700.2 L1741.9,1699.2 L1745.9,1698.2 L1749.8,1697.1 L1753.7,1696.1 L1757.7,1695.1 L1761.6,1694.0 L1765.5,1692.9 L1769.5,1691.8 L1773.4,1690.7 L1777.3,1689.6 L1781.2,1688.5 L1785.1,1687.3 L1789.0,1686.2 L1792.9,1685.0 L1796.8,1683.8 L1800.6,1682.5 L1804.5,1681.3 L1808.3,1680.0 L1812.2,1678.8 L1816.0,1677.4 L1819.8,1676.1 L1823.6,1674.8 L1827.4,1673.4 L1831.1,1672.0 L1834.9,1670.6 L1838.7,1669.1 L1842.4,1667.7 L1846.1,1666.2 L1849.8,1664.6 L1853.5,1663.1 L1857.2,1661.5 L1860.8,1659.9 L1864.4,1658.3 L1868.1,1656.6 L1871.7,1654.9 L1875.2,1653.2 L1878.8,1651.5 L1882.3,1649.7 L1885.8,1647.9 L1889.3,1646.0 L1892.8,1644.2 L1896.3,1642.3 L1899.7,1640.3 L1903.1,1638.3 L1906.5,1636.3 L1909.8,1634.3 L1913.2,1632.2 L1916.5,1630.1 L1919.7,1627.9 L1923.0,1625.7 L1926.2,1623.5 L1929.4,1621.2 L1932.6,1618.9 L1935.7,1616.6 L1938.9,1614.2 L1941.9,1611.8 L1945.0,1609.3 L1948.0,1606.8 L1951.0,1604.2 L1954.0,1601.6 L1956.9,1599.0 L1959.8,1596.3 L1962.7,1593.6 L1965.5,1590.8 L1968.3,1588.1 L1971.1,1585.2 L1973.8,1582.3 L1976.5,1579.4 L1979.2,1576.5 L1981.8,1573.5 L1984.4,1570.5 L1986.9,1567.4 L1989.4,1564.3 L1991.9,1561.2 L1994.3,1558.0 L1996.7,1554.8 L1999.1,1551.6 L2001.4,1548.3 L2003.7,1545.0 L2005.9,1541.7 L2008.1,1538.3 L2010.2,1534.9 L2012.3,1531.5 L2014.4,1528.0 L2016.4,1524.5 L2018.4,1521.0 L2020.3,1517.5 L2022.2,1513.9 L2024.0,1510.3 L2025.8,1506.7 L2027.6,1503.1 L2029.3,1499.4 L2030.9,1495.7 L2032.5,1492.0 L2034.1,1488.3 L2035.6,1484.5 L2037.0,1480.7 L2038.4,1476.9 L2039.8,1473.1 L2041.1,1469.3 L2042.3,1465.4 L2043.5,1461.6 L2044.7,1457.7 L2045.8,1453.8 L2046.9,1449.9 L2047.8,1446.0 L2048.8,1442.1 L2049.7,1438.1 L2050.5,1434.2 L2051.3,1430.2 L2052.0,1426.2 L2052.7,1422.3 L2053.3,1418.3 L2053.9,1414.3 L2054.4,1410.3 L2054.8,1406.3 L2055.2,1402.3 L2055.5,1398.3 L2055.8,1394.3" stroke="#ff0000" stroke-width="3"/>
<path d="M2055.8,1394.3 L2054.4,1398.0 L2053.1,1401.8 L2051.7,1405.5 L2050.4,1409.2 L2049.0,1413.0 L2047.5,1416.7 L2046.1,1420.4 L2044.7,1424.2 L2043.2,1427.9 L2041.7,1431.6 L2040.2,1435.3 L2038.6,1439.0 L2037.1,1442.7 L2035.5,1446.4 L2033.8,1450.1 L2032.2,1453.8 L2030.5,1457.4 L2028.7,1461.1 L2027.0,1464.7 L2025.1,1468.3 L2023.3,1471.9 L2021.4,1475.5 L2019.5,1479.0 L2017.5,1482.6 L2015.5,1486.1 L2013.4,1489.6 L2011.4,1493.0 L2009.2,1496.5 L2007.1,1499.9 L2004.9,1503.3 L2002.6,1506.7 L2000.4,1510.1 L1998.1,1513.4 L1995.7,1516.7 L1993.4,1520.0 L1991.0,1523.2 L1988.5,1526.5 L1986.0,1529.6 L1983.5,1532.8 L1981.0,1535.9 L1978.4,1539.0 L1975.8,1542.1 L1973.2,1545.1 L1970.5,1548.1 L1967.8,1551.1 L1965.1,1554.0 L1962.3,1556.9 L1959.5,1559.8 L1956.7,1562.6 L1953.8,1565.4 L1951.0,1568.1 L1948.1,1570.8 L1945.1,1573.5 L1942.2,1576.1 L1939.2,1578.7 L1936.1,1581.2 L1933.1,1583.7 L1930.0,1586.2 L1926.9,1588.7 L1923.8,1591.1 L1920.7,1593.5 L1917.5,1595.8 L1914.3,1598.1 L1911.1,1600.4 L1907.8,1602.7 L1904.6,1604.9 L1901.3,1607.0 L1898.0,1609.2 L1894.6,1611.3 L1891.3,1613.4 L1887.9,1615.5 L1884.5,1617.5 L1881.1,1619.5 L1877.7,1621.5 L1874.2,1623.4 L1870.7,1625.3 L1867.2,1627.2 L1863.7,1629.0 L1860.2,1630.9 L1856.6,1632.7 L1853.1,1634.5 L1849.5,1636.2 L1845.9,1637.9 L1842.3,1639.6 L1838.6,1641.3 L1835.0,1642.9 L1831.3,1644.6 L1827.6,1646.2 L1824.0,1647.7 L1820.3,1649.3 L1816.5,1650.8 L1812.8,1652.3 L1809.1,1653.8 L1805.3,1655.3 L1801.5,1656.7 L1797.8,1658.1 L1794.0,1659.5 L1790.2,1660.9 L1786.4,1662.3 L1782.5,1663.6 L1778.7,1665.0 L1774.9,1666.3 L1771.0,1667.5 L1767.2,1668.8 L1763.3,1670.1 L1759.4,1671.3 L1755.5,1672.5 L1751.7,1673.7 L1747.8,1674.9 L1743.9,1676.1 L1740.0,1677.2 L1736.0,1678.4 L1732.1,1679.5 L1728.2,1680.6 L1724.3,1681.7 L1720.4,1682.8 L1716.4,1683.9 L1712.5,1684.9 L1708.6,1686.0 L1704.6,1687.0 L1700.7,1688.1 L1696.7,1689.1 L1692.8,1690.1 L1688.8,1691.1 L1684.9,1692.1 L1681.0,1693.0 L1677.0,1694.0 L1673.1,1695.0 L1669.1,1695.9 L1665.2,1696.8 L1661.2,1697.8 L1657.3,1698.7 L1653.3,1699.6 L1649.4,1700.5 L1645.5,1701.4 L1641.5,1702.3 L1637.6,1703.2 L1633.6,1704.1 L1629.7,1704.9 L1625.7,1705.8 L1621.8,1706.6 L1617.9,1707.5 L1613.9,1708.3 L1610.0,1709.1 L1606.0,1709.9 L1602.1,1710.7 L1598.1,1711.5 L1594.2,1712.3 L1590.3,1713.1 L1586.3,1713.9 L1582.4,1714.7 L1578.4,1715.4 L1574.5,1716.2 L1570.5,1716.9 L1566.6,1717.7 L1562.6,1718.4 L1558.7,1719.2 L1554.7,1719.9 L1550.8,1720.6 L1546.9,1721.3 L1542.9,1722.0 L1539.0,1722.7 L1535.0,1723.4 L1531.1,1724.1 L1527.1,1724.8 L1523.2,1725.4 L1519.2,1726.1 L1515.3,1726.8 L1511.3,1727.4 L1507.4,1728.1 L1503.4,1728.7 L1499.5,1729.3 L1495.5,1730.0 L1491.6,1730.6 L1487.6,1731.2 L1483.7,1731.8 L1479.7,1732.5 L1475.8,1733.1 L1471.8,1733.7 L1467.9,1734.3 L1463.9,1734.8 L1460.0,1735.4 L1456.0,1736.0 L1452.1,1736.6 L1448.1,1737.2 L1444.1,1737.7 L1440.2,1738.3 L1436.2,1738.9 L1432.3,1739.4 L1428.3,1740.0 L1424.4,1740.5 L1420.4,1741.1 L1416.4,1741.6 L1412.5,1742.1 L1408.5,1742.7 L1404.6,1743.2 L1400.6,1743.7 L1396.6,1744.2 L1392.7,1744.8 L1388.7,1745.3 L1384.7,1745.8 L1380.8,1746.3 L1376.8,1746.8 L1372.8,1747.3 L1368.9,1747.8 L1364.9,1748.3 L1360.9,1748.8 L1357.0,1749.3 L1353.0,1749.8 L1349.0,1750.2 L1345.1,1750.7 L1341.1,1751.2 L1337.1,1751.7 L1333.1,1752.2 L1329.2,1752.6 L1325.2,1753.1 L1321.2,1753.6 L1317.2,1754.0 L1313.2,1754.5 L1309.3,1755.0 L1305.3,1755.4 L1301.3,1755.9 L1297.3,1756.4 L1293.3,1756.8 L1289.3,1757.3 L1285.4,1757.7 L1281.4,1758.2 L1277.4,1758.6 L1273.4,1759.1 L1269.4,1759.5 L1265.4,1760.0 L1261.4,1760.4 L1257.4,1760.9 L1253.4,1761.3 L1249.4,1761.8 L1245.4,1762.2 L1241.4,1762.7 L1237.4,1763.1 L1233.4,1763.6 L1229.4,1764.0 L1225.4,1764.5 L1221.4,1764.9 L1217.4,1765.3 L1213.4,1765.8 L1209.4,1766.2 L1205.4,1766.7 L1201.4,1767.1 L1197.4,1767.6 L1193.4,1768.0 L1189.4,1768.5 L1185.4,1768.9 L1181.3,1769.4 L1177.3,1769.8 L1173.3,1770.3 L1169.3,1770.7 L1165.3,1771.2 L1161.3,1771.6 L1157.2,1772.1 L1153.2,1772.5 L1149.2,1773.0 L1145.2,1773.5 L1141.1,1773.9 L1137.1,1774.4 L1133.1,1774.9 L1129.0,1775.3 L1125.0,1775.8" stroke="#ff0000" stroke-width="3"/>
<path d="M289.0,2257.4 L292.4,2253.2 L297.3,2247.7 L302.1,2240.8 L306.3,2234.6 L310.4,2230.4 L310.4,2230.4 L314.4,2230.0 L318.4,2229.7 L322.4,2229.3 L326.4,2229.0 L330.4,2228.6 L334.4,2228.3 L338.4,2227.9 L342.4,2227.6 L346.4,2227.2 L350.4,2226.9 L354.3,2226.5 L358.3,2226.2 L362.3,2225.8 L366.3,2225.5 L370.3,2225.2 L374.3,2224.8 L378.3,2224.5 L382.3,2224.1 L386.3,2223.8 L390.3,2223.5 L394.3,2223.1 L398.3,2222.8 L402.3,2222.4 L406.3,2222.1 L410.3,2221.8 L414.3,2221.4 L418.3,2221.1 L422.3,2220.8 L426.3,2220.4 L430.3,2220.1 L434.3,2219.8 L438.3,2219.4 L442.3,2219.1 L446.3,2218.8 L450.3,2218.4 L454.3,2218.1 L458.3,2217.8 L462.3,2217.5 L466.3,2217.1 L470.3,2216.8 L474.3,2216.5 L478.3,2216.2 L482.3,2215.8 L486.3,2215.5 L490.3,2215.2 L494.2,2214.9 L498.2,2214.5 L502.2,2214.2 L506.2,2213.9 L510.2,2213.6 L514.2,2213.3 L518.2,2212.9 L522.2,2212.6 L526.2,2212.3 L530.2,2212.0 L534.2,2211.7 L538.2,2211.4 L542.2,2211.0 L546.2,2210.7 L550.2,2210.4 L554.2,2210.1 L558.2,2209.8 L562.2,2209.5 L566.2,2209.2 L570.2,2208.9 L574.2,2208.6 L578.2,2208.2 L582.2,2207.9 L586.2,2207.6 L590.2,2207.3 L594.2,2207.0 L598.2,2206.7 L602.2,2206.4 L606.2,2206.1 L610.2,2205.8 L614.2,2205.5 L618.2,2205.2 L622.2,2204.9 L626.2,2204.6 L630.2,2204.3 L634.2,2204.0 L638.2,2203.7 L642.2,2203.4 L646.2,2203.1 L650.2,2202.8 L654.2,2202.5 L658.2,2202.2 L662.2,2201.9 L666.2,2201.6 L670.2,2201.3 L674.2,2201.0 L678.2,2200.7 L682.2,2200.4 L686.2,2200.1 L690.2,2199.8 L694.2,2199.5 L698.2,2199.2 L702.2,2198.9 L706.2,2198.7 L710.2,2198.4 L714.2,2198.1 L718.3,2197.8 L722.3,2197.5 L726.3,2197.2 L730.3,2196.9 L734.3,2196.6 L738.3,2196.3 L742.3,2196.0 L746.3,2195.8 L750.3,2195.5 L754.3,2195.2 L758.3,2194.9 L762.3,2194.6 L766.3,2194.3 L770.3,2194.1 L774.3,2193.8 L778.3,2193.5 L782.3,2193.2 L786.3,2192.9 L790.3,2192.6 L794.3,2192.4 L798.3,2192.1 L802.3,2191.8 L806.3,2191.5 L810.3,2191.2 L814.3,2191.0 L818.3,2190.7 L822.3,2190.4 L826.3,2190.1 L830.3,2189.8 L834.3,2189.6 L838.3,2189.3 L842.3,2189.0 L846.3,2188.7 L850.3,2188.5 L854.3,2188.2 L858.3,2187.9 L862.3,2187.6 L866.3,2187.4 L870.3,2187.1 L874.3,2186.8 L878.3,2186.5 L882.3,2186.3 L886.3,2186.0 L890.3,2185.7 L894.4,2185.4 L898.4,2185.2 L902.4,2184.9 L906.4,2184.6 L910.4,2184.4 L914.4,2184.1 L918.4,2183.8 L922.4,2183.5 L926.4,2183.3 L930.4,2183.0 L934.4,2182.7 L938.4,2182.5 L942.4,2182.2 L946.4,2181.9 L950.4,2181.7 L954.4,2181.4 L958.4,2181.1 L962.4,2180.9 L966.4,2180.6 L970.4,2180.3 L974.4,2180.1 L978.4,2179.8 L982.4,2179.5 L986.4,2179.3 L990.4,2179.0 L994.4,2178.7 L998.4,2178.5 L1002.4,2178.2 L1006.4,2178.0 L1010.4,2177.7 L1014.4,2177.4 L1018.5,2177.2 L1022.5,2176.9 L1026.5,2176.6 L1030.5,2176.4 L1034.5,2176.1 L1038.5,2175.9 L1042.5,2175.6 L1046.5,2175.3 L1050.5,2175.1 L1054.5,2174.8 L1058.5,2174.5 L1062.5,2174.3 L1066.5,2174.0 L1070.5,2173.8 L1074.5,2173.5 L1078.5,2173.2 L1082.5,2173.0 L1086.5,2172.7 L1090.5,2172.5 L1094.5,2172.2 L1098.5,2172.0 L1102.5,2171.7 L1106.5,2171.4 L1110.5,2171.2 L1114.5,2170.9 L1118.5,2170.7 L1122.5,2170.4 L1126.5,2170.1 L1130.6,2169.9 L1134.6,2169.6 L1138.6,2169.4 L1142.6,2169.1 L1146.6,2168.9 L1150.6,2168.6 L1154.6,2168.4 L1158.6,2168.1 L1162.6,2167.8 L1166.6,2167.6 L1170.6,2167.3 L1174.6,2167.1 L1178.6,2166.8 L1182.6,2166.6 L1186.6,2166.3 L1190.6,2166.1 L1194.6,2165.8 L1198.6,2165.5 L1202.6,2165.3 L1206.6,2165.0 L1210.6,2164.8 L1214.6,2164.5 L1218.6,2164.3 L1222.6,2164.0 L1226.6,2163.8 L1230.6,2163.5 L1234.6,2163.2 L1238.6,2163.0 L1242.7,2162.7 L1246.7,2162.5 L1250.7,2162.2 L1254.7,2162.0 L1258.7,2161.7 L1262.7,2161.4 L1266.7,2161.2 L1270.7,2160.9 L1274.7,2160.7 L1278.7,2160.4 L1282.7,2160.1 L1286.7,2159.9 L1290.7,2159.6 L1294.7,2159.3 L1298.7,2159.0 L1302.7,2158.8 L1306.7,2158.5 L1310.7,2158.2 L1314.7,2157.9 L1318.7,2157.6 L1322.7,2157.4 L1326.7,2157.1 L1330.7,2156.8 L1334.7,2156.5 L1338.7,2156.2 L1342.7,2155.9 L1346.7,2155.6 L1350.7,2155.3 L1354.7,2155.0 L1358.7,2154.7 L1362.7,2154.4 L1366.7,2154.0 L1370.7,2153.7 L1374.7,2153.4 L1378.7,2153.1 L1382.6,2152.7 L1386.6,2152.4 L1390.6,2152.1 L1394.6,2151.7 L1398.6,2151.4 L1402.6,2151.0 L1406.6,2150.7 L1410.6,2150.3 L1414.6,2150.0 L1418.6,2149.6 L1422.6,2149.2 L1426.6,2148.9 L1430.6,2148.5 L1434.5,2148.1 L1438.5,2147.7 L1442.5,2147.3 L1446.5,2146.9 L1450.5,2146.5 L1454.5,2146.1 L1458.5,2145.7 L1462.5,2145.3 L1466.4,2144.9 L1470.4,2144.5 L1474.4,2144.0 L1478.4,2143.6 L1482.4,2143.1 L1486.4,2142.7 L1490.3,2142.2 L1494.3,2141.8 L1498.3,2141.3 L1502.3,2140.8 L1506.3,2140.4 L1510.2,2139.9 L1514.2,2139.4 L1518.2,2138.9 L1522.2,2138.4 L1526.1,2137.9 L1530.1,2137.3 L1534.1,2136.8 L1538.1,2136.3 L1542.0,2135.8 L1546.0,2135.2 L1550.0,2134.7 L1554.0,2134.1 L1557.9,2133.5 L1561.9,2133.0 L1565.9,2132.4 L1569.8,2131.8 L1573.8,2131.2 L1577.8,2130.6 L1581.7,2130.0 L1585.7,2129.4 L1589.7,2128.7 L1593.6,2128.1 L1597.6,2127.5 L1601.5,2126.8 L1605.5,2126.1 L1609.5,2125.5 L1613.4,2124.8 L1617.4,2124.1 L1621.3,2123.4 L1625.3,2122.7 L1629.2,2122.0 L1633.2,2121.3 L1637.1,2120.6 L1641.1,2119.8 L1645.1,2119.1 L1649.0,2118.3 L1652.9,2117.6 L1656.9,2116.8 L1660.8,2116.0 L1664.8,2115.2 L1668.7,2114.4 L1672.7,2113.6 L1676.6,2112.8 L1680.6,2112.0 L1684.5,2111.1 L1688.4,2110.3 L1692.4,2109.4 L1696.3,2108.5 L1700.3,2107.7 L1704.2,2106.8 L1708.1,2105.9 L1712.1,2105.0 L1716.0,2104.0 L1719.9,2103.1 L1723.9,2102.2 L1727.8,2101.2 L1731.7,2100.2 L1735.6,2099.3 L1739.6,2098.3 L1743.5,2097.3 L1747.4,2096.3 L1751.3,2095.3 L1755.3,2094.2 L1759.2,2093.2 L1763.1,2092.1 L1767.0,2091.0 L1770.9,2089.9 L1774.8,2088.8 L1778.7,2087.7 L1782.6,2086.6 L1786.4,2085.4 L1790.3,2084.2 L1794.2,2083.0 L1798.0,2081.8 L1801.9,2080.6 L1805.7,2079.4 L1809.5,2078.1 L1813.4,2076.8 L1817.2,2075.5 L1821.0,2074.1 L1824.8,2072.8 L1828.5,2071.4 L1832.3,2070.0 L1836.0,2068.6 L1839.8,2067.1 L1843.5,2065.6 L1847.2,2064.1 L1850.9,2062.6 L1854.5,2061.0 L1858.2,2059.4 L1861.8,2057.8 L1865.5,2056.2 L1869.1,2054.5 L1872.6,2052.8 L1876.2,2051.1 L1879.8,2049.3 L1883.3,2047.5 L1886.8,2045.7 L1890.3,2043.8 L1893.7,2041.9 L1897.2,2040.0 L1900.6,2038.0 L1904.0,2036.0 L1907.4,2034.0 L1910.7,2031.9 L1914.0,2029.8 L1917.3,2027.6 L1920.6,2025.4 L1923.9,2023.2 L1927.1,2021.0 L1930.3,2018.7 L1933.4,2016.3 L1936.6,2013.9 L1939.7,2011.5 L1942.8,2009.1 L1945.8,2006.5 L1948.8,2004.0 L1951.8,2001.4 L1954.8,1998.8 L1957.7,1996.2 L1960.6,1993.5 L1963.5,1990.7 L1966.3,1988.0 L1969.1,1985.1 L1971.9,1982.3 L1974.6,1979.4 L1977.3,1976.5 L1980.0,1973.6 L1982.6,1970.6 L1985.2,1967.5 L1987.8,1964.5 L1990.3,1961.4 L1992.8,1958.3 L1995.2,1955.1 L1997.6,1951.9 L2000.0,1948.7 L2002.3,1945.4 L2004.6,1942.2 L2006.9,1938.8 L2009.1,1935.5 L2011.2,1932.1 L2013.4,1928.7 L2015.5,1925.3 L2017.5,1921.8 L2019.5,1918.3 L2021.5,1914.8 L2023.4,1911.2 L2025.3,1907.7 L2027.1,1904.1 L2028.9,1900.5 L2030.7,1896.8 L2032.4,1893.2 L2034.0,1889.5 L2035.7,1885.8 L2037.2,1882.1 L2038.8,1878.3 L2040.2,1874.6 L2041.7,1870.8 L2043.1,1867.0 L2044.4,1863.2 L2045.7,1859.3 L2047.0,1855.5 L2048.2,1851.6 L2049.3,1847.8 L2050.4,1843.9 L2051.5,1840.0 L2052.5,1836.1 L2053.5,1832.1 L2054.4,1828.2 L2055.2,1824.3 L2056.0,1820.3 L2056.8,1816.4 L2057.5,1812.4" stroke="#000" stroke-width="5.5"/>
<path d="M2057.5,1812.4 L2054.8,1815.2 L2052.3,1818.1 L2049.8,1821.1 L2047.6,1824.2 L2045.4,1827.4 L2043.3,1830.7 L2041.3,1834.1 L2039.3,1837.5 L2037.5,1841.0 L2035.7,1844.5 L2033.9,1848.1 L2032.1,1851.7 L2030.4,1855.3 L2028.7,1858.9 L2027.0,1862.6 L2025.2,1866.2 L2023.5,1869.9 L2021.7,1873.5 L2019.9,1877.1 L2018.1,1880.7 L2016.2,1884.3 L2014.3,1887.8 L2012.3,1891.3 L2010.3,1894.7 L2008.2,1898.2 L2006.0,1901.5 L2003.8,1904.9 L2001.5,1908.2 L1999.2,1911.5 L1996.9,1914.7 L1994.5,1918.0 L1992.0,1921.1 L1989.5,1924.3 L1987.0,1927.4 L1984.4,1930.5 L1981.8,1933.5 L1979.1,1936.5 L1976.4,1939.5 L1973.7,1942.5 L1970.9,1945.4 L1968.1,1948.2 L1965.3,1951.1 L1962.4,1953.9 L1959.5,1956.7 L1956.5,1959.4 L1953.5,1962.2 L1950.5,1964.9 L1947.5,1967.5 L1944.4,1970.1 L1941.3,1972.7 L1938.2,1975.3 L1935.1,1977.8 L1931.9,1980.3 L1928.7,1982.8 L1925.5,1985.3 L1922.3,1987.7 L1919.1,1990.1 L1915.8,1992.4 L1912.5,1994.7 L1909.3,1997.0 L1905.9,1999.3 L1902.6,2001.5 L1899.3,2003.8 L1895.9,2005.9 L1892.6,2008.1 L1889.2,2010.2 L1885.8,2012.3 L1882.4,2014.4 L1878.9,2016.4 L1875.5,2018.5 L1872.0,2020.5 L1868.6,2022.4 L1865.1,2024.4 L1861.6,2026.3 L1858.1,2028.2 L1854.6,2030.0 L1851.0,2031.9 L1847.5,2033.7 L1843.9,2035.5 L1840.3,2037.3 L1836.8,2039.0 L1833.2,2040.7 L1829.6,2042.4 L1825.9,2044.1 L1822.3,2045.7 L1818.7,2047.4 L1815.0,2049.0 L1811.3,2050.6 L1807.7,2052.1 L1804.0,2053.7 L1800.3,2055.2 L1796.6,2056.7 L1792.8,2058.2 L1789.1,2059.6 L1785.4,2061.1 L1781.6,2062.5 L1777.9,2063.9 L1774.1,2065.2 L1770.3,2066.6 L1766.6,2067.9 L1762.8,2069.3 L1759.0,2070.6 L1755.2,2071.8 L1751.3,2073.1 L1747.5,2074.3 L1743.7,2075.6 L1739.9,2076.8 L1736.0,2078.0 L1732.2,2079.2 L1728.3,2080.3 L1724.4,2081.5 L1720.6,2082.6 L1716.7,2083.7 L1712.8,2084.8 L1708.9,2085.9 L1705.0,2086.9 L1701.1,2088.0 L1697.2,2089.0 L1693.3,2090.0 L1689.4,2091.0 L1685.4,2092.0 L1681.5,2093.0 L1677.6,2094.0 L1673.7,2094.9 L1669.7,2095.9 L1665.8,2096.8 L1661.8,2097.7 L1657.9,2098.6 L1653.9,2099.5 L1650.0,2100.4 L1646.0,2101.2 L1642.0,2102.1 L1638.1,2102.9 L1634.1,2103.8 L1630.1,2104.6 L1626.2,2105.4 L1622.2,2106.2 L1618.2,2107.0 L1614.3,2107.8 L1610.3,2108.5 L1606.3,2109.3 L1602.3,2110.1 L1598.3,2110.8 L1594.4,2111.5 L1590.4,2112.3 L1586.4,2113.0 L1582.4,2113.7 L1578.4,2114.4 L1574.5,2115.1 L1570.5,2115.8 L1566.5,2116.5 L1562.5,2117.2 L1558.6,2117.9 L1554.6,2118.5 L1550.6,2119.2 L1546.6,2119.8 L1542.6,2120.5 L1538.7,2121.1 L1534.7,2121.8 L1530.7,2122.4 L1526.8,2123.0 L1522.8,2123.6 L1518.8,2124.2 L1514.8,2124.8 L1510.9,2125.4 L1506.9,2126.0 L1502.9,2126.6 L1498.9,2127.2 L1495.0,2127.8 L1491.0,2128.4 L1487.0,2128.9 L1483.1,2129.5 L1479.1,2130.1 L1475.1,2130.6 L1471.2,2131.2 L1467.2,2131.7 L1463.2,2132.2 L1459.2,2132.8 L1455.3,2133.3 L1451.3,2133.8 L1447.3,2134.4 L1443.4,2134.9 L1439.4,2135.4 L1435.4,2135.9 L1431.5,2136.4 L1427.5,2136.9 L1423.5,2137.4 L1419.5,2137.9 L1415.6,2138.4 L1411.6,2138.9 L1407.6,2139.4 L1403.7,2139.9 L1399.7,2140.3 L1395.7,2140.8 L1391.7,2141.3 L1387.8,2141.8 L1383.8,2142.2 L1379.8,2142.7 L1375.8,2143.2 L1371.9,2143.6 L1367.9,2144.1 L1363.9,2144.5 L1359.9,2145.0 L1356.0,2145.4 L1352.0,2145.9 L1348.0,2146.3 L1344.0,2146.8 L1340.1,2147.2 L1336.1,2147.7 L1332.1,2148.1 L1328.1,2148.6 L1324.1,2149.0 L1320.2,2149.4 L1316.2,2149.9 L1312.2,2150.3 L1308.2,2150.7 L1304.2,2151.2 L1300.2,2151.6 L1296.2,2152.0 L1292.3,2152.5 L1288.3,2152.9 L1284.3,2153.3 L1280.3,2153.7 L1276.3,2154.2 L1272.3,2154.6 L1268.3,2155.0 L1264.3,2155.5 L1260.3,2155.9 L1256.3,2156.3 L1252.3,2156.7 L1248.3,2157.2 L1244.3,2157.6 L1240.3,2158.0 L1236.3,2158.4 L1232.3,2158.9 L1228.3,2159.3 L1224.3,2159.7 L1220.3,2160.2 L1216.3,2160.6 L1212.3,2161.0 L1208.3,2161.5 L1204.2,2161.9 L1200.2,2162.3 L1196.2,2162.8 L1192.2,2163.2 L1188.2,2163.7 L1184.2,2164.1 L1180.1,2164.5 L1176.1,2165.0 L1172.1,2165.4 L1168.1,2165.9 L1164.0,2166.3 L1160.0,2166.8" stroke="#000" stroke-width="5.5"/>
</g>
<!-- frame -->
<rect x="285.5" y="20" width="1792.5" height="3" fill="#000"/>
<rect x="285.5" y="20" width="3" height="2272" fill="#2a2a2a"/>
<rect x="288.5" y="23" width="2.5" height="2260" fill="#b4b4b4"/>
<rect x="2072.5" y="20" width="2.8" height="2268" fill="#5f6e6e"/>
<rect x="2075.3" y="20" width="2.8" height="2268" fill="#9a9690"/>
<rect x="285.5" y="2283" width="1781" height="6" fill="#000"/>
<rect x="285.5" y="2289" width="1781" height="2.7" fill="#1c1c1c"/>
<rect x="2066" y="2286" width="9" height="2.6" fill="#000"/>
<rect x="285.2" y="2290" width="6" height="33.5" fill="#000"/><rect x="640.8" y="2290" width="6" height="33.5" fill="#000"/><rect x="996.4" y="2290" width="6" height="33.5" fill="#000"/><rect x="1352.0" y="2290" width="6" height="33.5" fill="#000"/><rect x="1707.6" y="2290" width="6" height="33.5" fill="#000"/><rect x="2063.2" y="2290" width="6" height="33.5" fill="#000"/>
</svg>
</body></html>
